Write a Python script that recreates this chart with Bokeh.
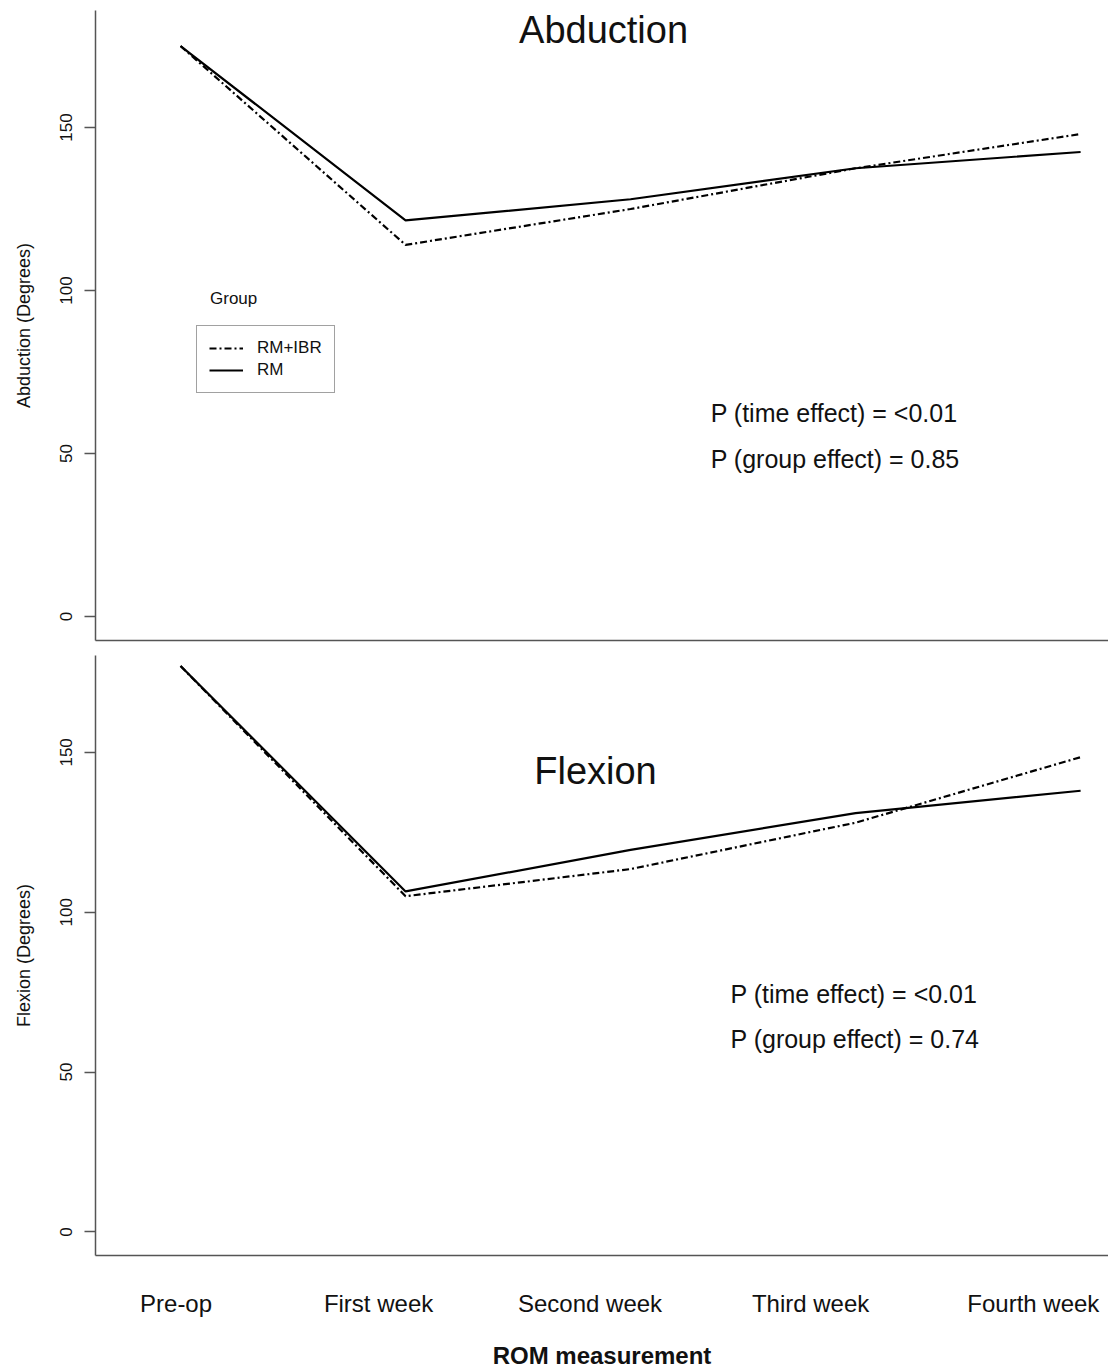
from bokeh.plotting import figure
from bokeh.layouts import column
from bokeh.models import (ColumnDataSource, FixedTicker, Legend, LegendItem, Label,
                          Range1d)
from bokeh.embed import file_html
from bokeh.resources import INLINE

# ---------------- data ----------------
categories = ["Pre-op", "First week", "Second week", "Third week", "Fourth week"]
x_idx = [0, 1, 2, 3, 4]
abd_rm_ibr = [175, 114, 125, 137.5, 148]
abd_rm = [175, 121.5, 128, 137.5, 142.5]
flex_rm_ibr = [177, 105, 113.5, 128, 148.5]
flex_rm = [177, 106.5, 119.5, 131, 138]
y_ticks = [0, 50, 100, 150]
groups = ["RM+IBR", "RM"]

FONT = "Liberation Sans"
AXIS_COLOR = "#555555"
TEXT = "#111111"
DASH = "7 3 2 3"

# tick-label positions (layout only), as in the reference
label_pos = [-0.02, 0.88, 1.82, 2.80, 3.79]


def style_y(p, title):
    ax = p.yaxis[0]
    ax.ticker = FixedTicker(ticks=y_ticks)
    ax.axis_label = title
    ax.axis_label_text_font = FONT
    ax.axis_label_text_font_size = "18px"
    ax.axis_label_text_font_style = "normal"
    ax.axis_label_text_color = TEXT
    ax.axis_label_standoff = 24
    ax.major_label_orientation = "vertical"
    ax.major_label_text_font = FONT
    ax.major_label_text_font_size = "17px"
    ax.major_label_text_color = TEXT
    ax.major_label_standoff = 12
    ax.major_tick_out = 11
    ax.major_tick_in = 0
    ax.minor_tick_line_color = None
    ax.axis_line_color = AXIS_COLOR
    ax.axis_line_width = 1.5
    ax.major_tick_line_color = AXIS_COLOR
    ax.major_tick_line_width = 1.5


def base_fig(height, y0, y1, border_top, border_bottom):
    p = figure(width=1108, height=height, output_backend="svg", toolbar_location=None,
               x_range=Range1d(-0.378, 4.124), y_range=Range1d(y0, y1),
               min_border_left=95, min_border_right=0,
               min_border_top=border_top, min_border_bottom=border_bottom)
    p.outline_line_color = None
    p.xgrid.grid_line_color = None
    p.ygrid.grid_line_color = None
    p.background_fill_color = "white"
    p.border_fill_color = "white"
    return p


def label(p, x, y, text, size, align="left", style="normal"):
    p.add_layout(Label(x=x, y=y, text=text, text_font=FONT, text_font_size=size,
                       text_font_style=style, text_color=TEXT,
                       text_align=align, text_baseline="middle"))


# ---------------- top panel: Abduction ----------------
p1 = base_fig(655, -7.36, 185.9, 10, 15)
src1 = ColumnDataSource(dict(x=x_idx, a=abd_rm_ibr, b=abd_rm))
r_ibr = p1.line("x", "a", source=src1, line_color="black", line_width=2.2, line_dash=DASH)
r_rm = p1.line("x", "b", source=src1, line_color="black", line_width=2.2)
style_y(p1, "Abduction (Degrees)")
xa = p1.xaxis[0]
xa.ticker = FixedTicker(ticks=[])
xa.major_label_text_font_size = "0px"
xa.major_tick_line_color = None
xa.minor_tick_line_color = None
xa.axis_line_color = AXIS_COLOR
xa.axis_line_width = 1.5

label(p1, 1.88, 179.8, "Abduction", "38px", align="center")
label(p1, 0.236, 97.5, "Group", "17px", align="center")
label(p1, 2.356, 62.3, "P (time effect) = <0.01", "25px")
label(p1, 2.356, 48.2, "P (group effect) = 0.85", "25px")

legend = Legend(items=[LegendItem(label=groups[0], renderers=[r_ibr]),
                       LegendItem(label=groups[1], renderers=[r_rm])],
                location=(101, 247), orientation="vertical",
                label_text_font=FONT, label_text_font_size="17px",
                label_text_color=TEXT,
                glyph_width=34, glyph_height=20, spacing=2, padding=12, margin=0,
                label_standoff=14, label_height=20,
                border_line_color="#444444", border_line_width=1.2,
                background_fill_color="white", background_fill_alpha=1.0)
p1.add_layout(legend)

# ---------------- bottom panel: Flexion ----------------
p2 = base_fig(716, -7.38, 180.3, 0, 106)
src2 = ColumnDataSource(dict(x=x_idx, a=flex_rm_ibr, b=flex_rm))
p2.line("x", "a", source=src2, line_color="black", line_width=2.2, line_dash=DASH)
p2.line("x", "b", source=src2, line_color="black", line_width=2.2)
style_y(p2, "Flexion (Degrees)")
xb = p2.xaxis[0]
xb.ticker = FixedTicker(ticks=label_pos)
xb.major_label_overrides = {lp: c for lp, c in zip(label_pos, categories)}
xb.major_label_text_font = FONT
xb.major_label_text_font_size = "24px"
xb.major_label_text_color = TEXT
xb.major_label_standoff = 28
xb.major_tick_line_color = None
xb.minor_tick_line_color = None
xb.axis_line_color = AXIS_COLOR
xb.axis_line_width = 1.5
xb.axis_label = "ROM measurement"
xb.axis_label_text_font = FONT
xb.axis_label_text_font_size = "24px"
xb.axis_label_text_font_style = "bold"
xb.axis_label_text_color = TEXT
xb.axis_label_standoff = 22

label(p2, 1.844, 144.3, "Flexion", "38px", align="center")
label(p2, 2.444, 74.5, "P (time effect) = <0.01", "25px")
label(p2, 2.444, 60.3, "P (group effect) = 0.74", "25px")

layout = column(p1, p2, spacing=0)
open("out.html", "w").write(file_html(layout, INLINE))
